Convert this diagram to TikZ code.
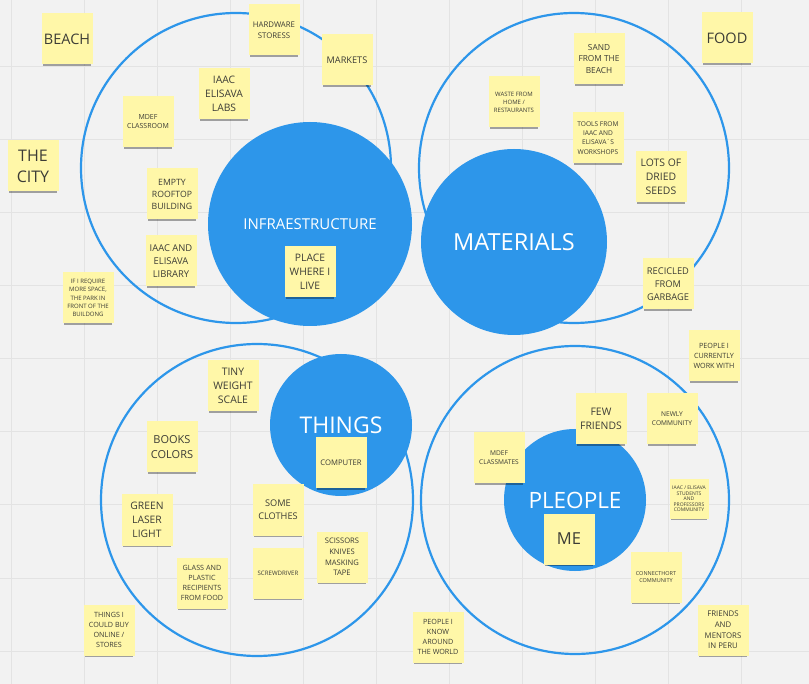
\documentclass[tikz,border=0pt]{standalone}
\usepackage{fontspec}
\setmainfont{Open Sans}
\usetikzlibrary{shadows}
\definecolor{bgc}{HTML}{F2F2F2}
\definecolor{gridc}{HTML}{E3E3E3}
\definecolor{mblue}{HTML}{2D96EA}
\definecolor{nyellow}{HTML}{FFF7A8}
\definecolor{ntext}{HTML}{3C3C36}
\newcommand{\fsz}[2]{\fontsize{#1}{#2}\selectfont}
\begin{document}
\begin{tikzpicture}[x=1pt,y=-1pt,
  ring/.style={circle, draw=mblue, line width=2.2pt, inner sep=0pt},
  hub/.style={circle, fill=mblue, text=white, inner sep=0pt},
  note/.style={rectangle, fill=nyellow, minimum width=51pt, minimum height=51pt,
    inner sep=0pt, align=center, text=ntext,
    drop shadow={shadow xshift=0pt, shadow yshift=-3pt, shadow scale=0.93, opacity=0.34, fill=black}},
  small note/.style={note, minimum width=39pt, minimum height=39pt}
]
\useasboundingbox (0,0) rectangle (809,684);
\fill[bgc] (0,0) rectangle (809,684);
\foreach \gx in {11,84,157,230,303,376,449,522,595,668,741}
  \draw[gridc, line width=1pt] (\gx,0) -- (\gx,684);
\foreach \gy in {67,140,213,286,359,432,505,578,651}
  \draw[gridc, line width=1pt] (0,\gy) -- (809,\gy);

% outer rings
\node[ring, minimum size=310pt] (ringInfra) at (236,168) {};
\node[ring, minimum size=310pt] (ringMat) at (574,168) {};
\node[ring, minimum size=312pt] (ringThings) at (257,500) {};
\node[ring, minimum size=308pt] (ringPeople) at (575,500) {};

% hubs
\node[hub, minimum size=204pt, font=\fsz{15}{18}] (infra) at (310,224) {INFRAESTRUCTURE};
\node[hub, minimum size=186pt, font=\fsz{23.5}{28}] (mat) at (514,242) {MATERIALS};
\node[hub, minimum size=142pt, font=\fsz{23}{28}] (things) at (341,425) {THINGS};
\node[hub, minimum size=142pt, font=\fsz{22.5}{27}] (people) at (575,500) {PLEOPLE};

% notes: infrastructure
\node[note, font=\fsz{14.5}{17}] (beach) at (67,39) {BEACH};
\node[note, font=\fsz{7.8}{10.7}] (hardware) at (274,30) {HARDWARE\\STORESS};
\node[note, font=\fsz{9.2}{12}] (markets) at (347,60) {MARKETS};
\node[note, font=\fsz{10.3}{14}] (labs) at (224,94) {IAAC\\ELISAVA\\LABS};
\node[note, font=\fsz{7}{9}] (mdef) at (148,122) {MDEF\\CLASSROOM};
\node[note, font=\fsz{16}{21}] (city) at (33,166) {THE\\CITY};
\node[note, font=\fsz{8.7}{12}] (rooftop) at (172,194) {EMPTY\\ROOFTOP\\BUILDING};
\node[note, font=\fsz{9.4}{13}] (library) at (171,261) {IAAC AND\\ELISAVA\\LIBRARY};
\node[note, font=\fsz{6}{8.3}] (park) at (88,298) {IF I REQUIRE\\MORE SPACE,\\THE PARK IN\\FRONT OF THE\\BUILDONG};
\node[note, font=\fsz{10.3}{14}] (home) at (310,272) {PLACE\\WHERE I\\LIVE};

% notes: materials
\node[note, font=\fsz{8.3}{11.2}] (sand) at (599,59) {SAND\\FROM THE\\BEACH};
\node[note, font=\fsz{14.5}{17}] (food) at (727,38) {FOOD};
\node[note, font=\fsz{6}{8}] (waste) at (514,102) {WASTE FROM\\HOME /\\RESTAURANTS};
\node[note, font=\fsz{6.6}{9.2}] (tools) at (598,138) {TOOLS FROM\\IAAC AND\\ELISAVA´S\\WORKSHOPS};
\node[note, font=\fsz{10.4}{14}] (seeds) at (661,177) {LOTS OF\\DRIED\\SEEDS};
\node[note, font=\fsz{9.3}{13}] (garbage) at (668,284) {RECICLED\\FROM\\GARBAGE};

% notes: things
\node[note, font=\fsz{10.4}{14}] (scale) at (233,386) {TINY\\WEIGHT\\SCALE};
\node[note, font=\fsz{11}{14.5}] (books) at (172,447) {BOOKS\\COLORS};
\node[note, font=\fsz{7.7}{10}] (computer) at (341,463) {COMPUTER};
\node[note, font=\fsz{10.3}{14}] (laser) at (147,520) {GREEN\\LASER\\LIGHT};
\node[note, font=\fsz{9.2}{12.7}] (clothes) at (278,510) {SOME\\CLOTHES};
\node[note, font=\fsz{7.2}{10}] (glass) at (202,583) {GLASS AND\\PLASTIC\\RECIPIENTS\\FROM FOOD};
\node[note, font=\fsz{6.1}{8}] (screw) at (278,573) {SCREWDRIVER};
\node[note, font=\fsz{7.6}{10.8}] (scissors) at (342,557) {SCISSORS\\KNIVES\\MASKING\\TAPE};
\node[note, font=\fsz{7.2}{10}] (online) at (109,630) {THINGS I\\COULD BUY\\ONLINE /\\STORES};

% notes: people
\node[note, font=\fsz{7.2}{9.7}] (work) at (714,356) {PEOPLE I\\CURRENTLY\\WORK WITH};
\node[note, font=\fsz{10.4}{14.3}] (friends) at (601,419) {FEW\\FRIENDS};
\node[note, font=\fsz{6.6}{9}] (newly) at (672,419) {NEWLY\\COMMUNITY};
\node[note, font=\fsz{6.6}{9}] (classmates) at (499,458) {MDEF\\CLASSMATES};
\node[small note, font=\fsz{5}{5.6}] (iaacstud) at (689,499) {IAAC / ELISAVA\\STUDENTS\\AND\\PROFESSORS\\COMMUNITY};
\node[note, font=\fsz{16.5}{20}] (me) at (569,539) {ME};
\node[note, font=\fsz{5.5}{6.7}] (connect) at (656,577) {CONNECTHORT\\COMMUNITY};
\node[note, font=\fsz{7.2}{10}] (world) at (438,637) {PEOPLE I\\KNOW\\AROUND\\THE WORLD};
\node[note, font=\fsz{7.8}{10.6}] (peru) at (723,630) {FRIENDS\\AND\\MENTORS\\IN PERU};
\end{tikzpicture}
\end{document}
